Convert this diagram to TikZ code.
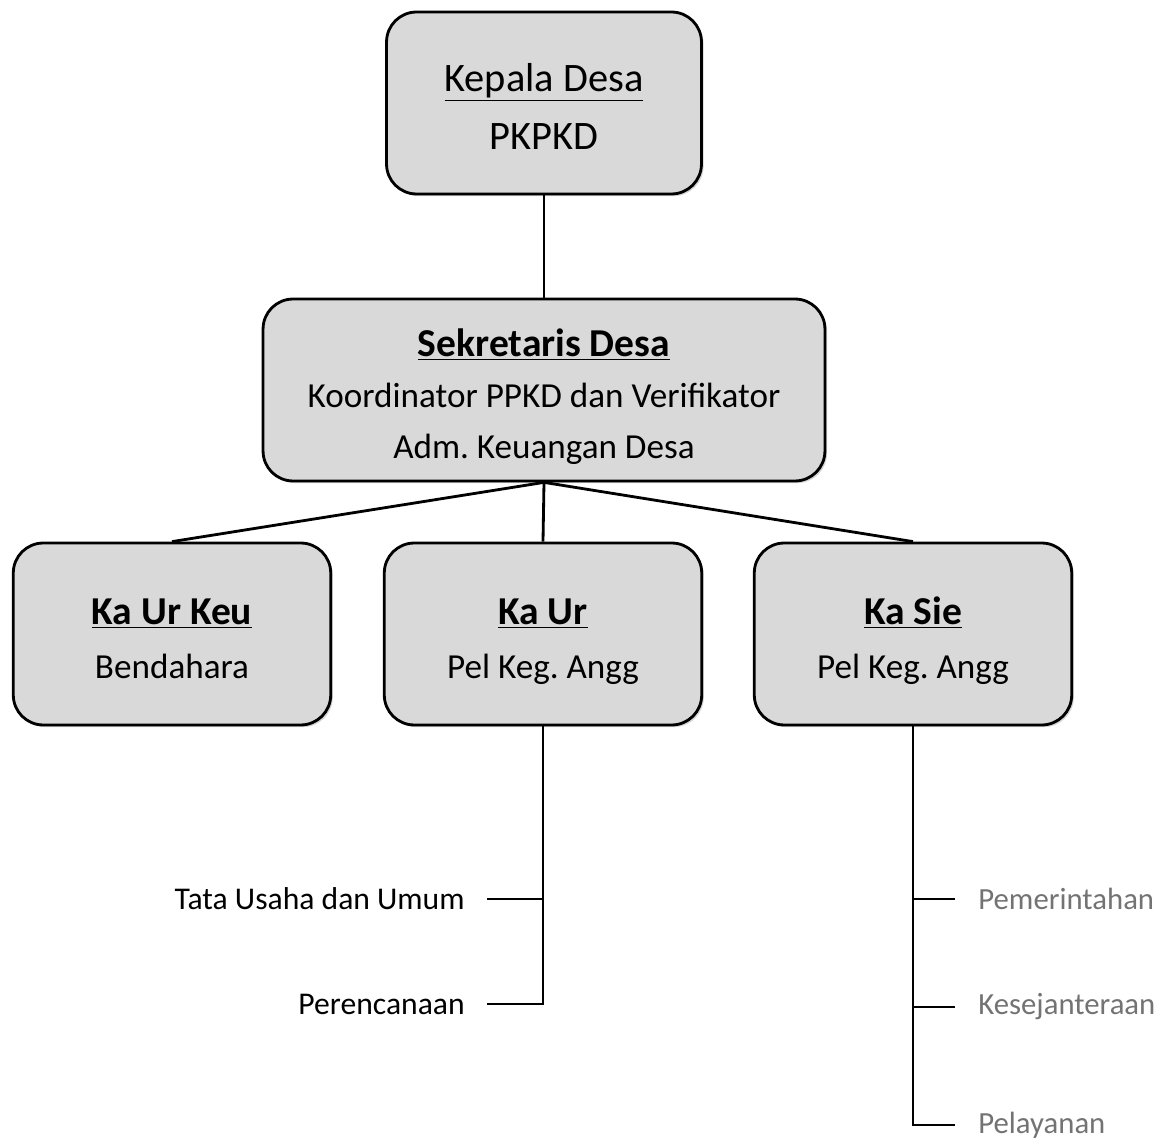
\documentclass[tikz,border=0pt]{standalone}
\usepackage{fontspec}
\setmainfont{Carlito}
\usetikzlibrary{shadows}
\frenchspacing
\tikzset{
  kotak/.style={draw=black, line width=1.6pt, fill=black!15, rounded corners=0.6cm,
    align=center, inner sep=0pt, minimum width=6.35cm, minimum height=3.64cm,
    drop shadow={shadow xshift=1.2pt, shadow yshift=-1.2pt, opacity=.35}},
  garis/.style={line width=1.6pt},
  cabang/.style={line width=1pt},
  kiri/.style={anchor=east, inner xsep=0.44cm, inner ysep=0pt, font=\fontsize{18}{20}\selectfont},
  kanan/.style={anchor=west, inner xsep=0.46cm, inner ysep=0pt, text=black!55, font=\fontsize{17.5}{20}\selectfont},
}
% judul bergaris bawah, tinggi baris dibuat sama
\newcommand{\judul}[1]{\rule{0pt}{23.5pt}\underline{\fontsize{22.5}{31}\selectfont\textbf{#1}}}
\begin{document}
\begin{tikzpicture}[x=0.02cm,y=-0.02cm]
\useasboundingbox (0,0) rectangle (1160,1145);
% kepala desa dan sekretaris
\node[kotak, minimum width=6.3cm, font=\fontsize{23}{33}\selectfont] (kades) at (544,103) {\rule{0pt}{24pt}\underline{Kepala Desa}\\PKPKD\vphantom{g}};
\node[kotak, minimum width=11.24cm, font=\fontsize{20}{29}\selectfont] (sekdes) at (544,390)
  {\judul{Sekretaris Desa}\\Koordinator PPKD dan Verifikator\\Adm. Keuangan Desa};
% baris pelaksana
\node[kotak, font=\fontsize{20}{31}\selectfont] (kaurkeu) at (172,634) {\judul{Ka Ur Keu}\\Bendahara\vphantom{g}};
\node[kotak, font=\fontsize{20}{31}\selectfont] (kaur) at (543,634) {\judul{Ka Ur}\\Pel Keg. Angg};
\node[kotak, font=\fontsize{20}{31}\selectfont] (kasie) at (913,634) {\judul{Ka Sie}\\Pel Keg. Angg};
\draw[garis] (kades.south) -- (sekdes.north);
\foreach \n in {kaurkeu,kaur,kasie}
  \draw[garis] (sekdes.south) -- (\n.north);
% cabang ka ur
\node[kiri] (tu) at (487,899) {Tata Usaha dan Umum};
\node[kiri] (per) at (487,1004) {Perencanaan};
\draw[cabang] (kaur.south) |- (per.east);
\draw[cabang] (tu.east) -- (tu.east -| kaur.south);
% cabang ka sie
\node[kanan] (pem) at (955,899) {Pemerintahan};
\node[kanan] (kes) at (955,1007) {Kesejanteraan};
\node[kanan] (pel) at (955,1125) {Pelayanan};
\draw[cabang] (kasie.south) |- (pel.west);
\foreach \n in {pem,kes}
  \draw[cabang] (\n.west) -- (\n.west -| kasie.south);
\end{tikzpicture}
\end{document}
